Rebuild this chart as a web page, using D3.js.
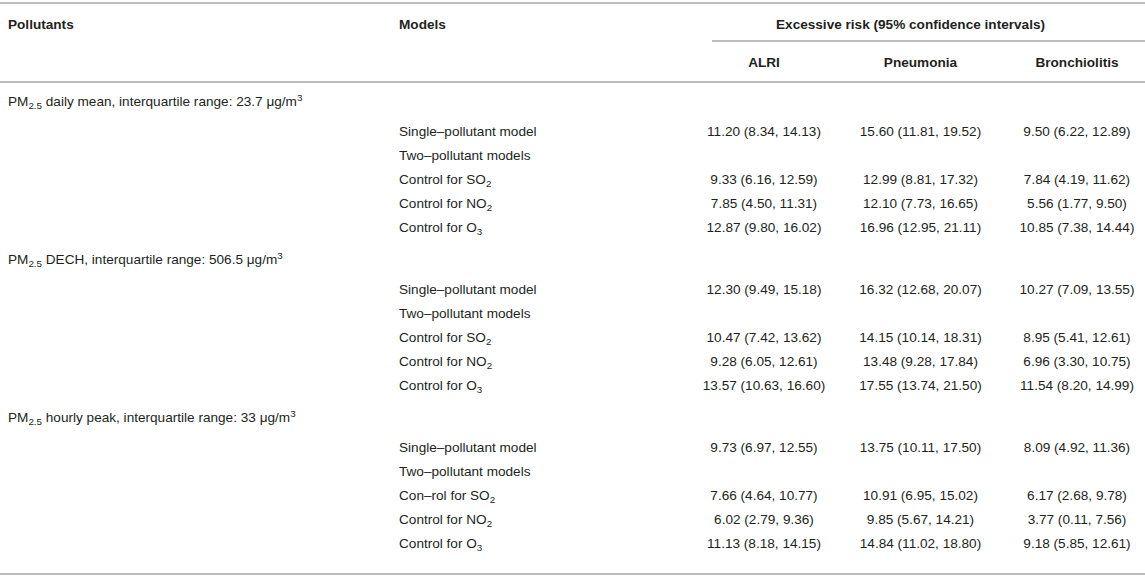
<!DOCTYPE html>
<html>
<head>
<meta charset="utf-8">
<script src="https://cdn.jsdelivr.net/npm/d3@7"></script>
<style>
  body { margin: 0; background: #fff; }
  svg text { font-family: "Liberation Sans", Arial, sans-serif; fill: #231f20; }
</style>
</head>
<body>
<div id="canvas"></div>
<script>
"use strict";

/* Table content */
let outcomes = ["ALRI", "Pneumonia", "Bronchiolitis"];
let groupNames = ["daily mean", "DECH", "hourly peak"];
let iqrValues = ["23.7", "506.5", "33"];
let modelNames = [
  ["Single\u2013pollutant model", "Two\u2013pollutant models", "Control for SO|2", "Control for NO|2", "Control for O|3"],
  ["Single\u2013pollutant model", "Two\u2013pollutant models", "Control for SO|2", "Control for NO|2", "Control for O|3"],
  ["Single\u2013pollutant model", "Two\u2013pollutant models", "Con\u2013rol for SO|2", "Control for NO|2", "Control for O|3"]
];

/* [estimate, lower, upper]; null where the row has no values */
let alri = [
  [[11.20, 8.34, 14.13], null, [9.33, 6.16, 12.59], [7.85, 4.50, 11.31], [12.87, 9.80, 16.02]],
  [[12.30, 9.49, 15.18], null, [10.47, 7.42, 13.62], [9.28, 6.05, 12.61], [13.57, 10.63, 16.60]],
  [[9.73, 6.97, 12.55], null, [7.66, 4.64, 10.77], [6.02, 2.79, 9.36], [11.13, 8.18, 14.15]]
];
let pneumonia = [
  [[15.60, 11.81, 19.52], null, [12.99, 8.81, 17.32], [12.10, 7.73, 16.65], [16.96, 12.95, 21.11]],
  [[16.32, 12.68, 20.07], null, [14.15, 10.14, 18.31], [13.48, 9.28, 17.84], [17.55, 13.74, 21.50]],
  [[13.75, 10.11, 17.50], null, [10.91, 6.95, 15.02], [9.85, 5.67, 14.21], [14.84, 11.02, 18.80]]
];
let bronchiolitis = [
  [[9.50, 6.22, 12.89], null, [7.84, 4.19, 11.62], [5.56, 1.77, 9.50], [10.85, 7.38, 14.44]],
  [[10.27, 7.09, 13.55], null, [8.95, 5.41, 12.61], [6.96, 3.30, 10.75], [11.54, 8.20, 14.99]],
  [[8.09, 4.92, 11.36], null, [6.17, 2.68, 9.78], [3.77, 0.11, 7.56], [9.18, 5.85, 12.61]]
];
let seriesByOutcome = [alri, pneumonia, bronchiolitis];

/* Drawing configuration */
let svgWidth = 1145;
let svgHeight = 579;
let fontSize = 13.6;
let lineColor = "#a8a8a8";
let pollutantX = 8;
let modelX = 399;
let rowPitch = 24;
let groupPitch = 158;
let firstRowY = 131;
let headerOffset = -30;

let svg = d3.select("#canvas")
  .append("svg")
  .attr("width", svgWidth)
  .attr("height", svgHeight);

/* column centres for the three outcomes */
let xScale = d3.scalePoint()
  .domain(outcomes)
  .range([764, 1077])
  .padding(0);

/* rows: slot index within a group -> y */
let rowScale = d3.scaleLinear()
  .domain([0, 1])
  .range([0, rowPitch]);

function rowY(g, i) {
  return firstRowY + g * groupPitch + rowScale(i);
}

function baseline(y) {
  return y + 4.7;
}

/* write "text|sub" with subscript part */
function writeSub(sel, label) {
  let parts = label.split("|");
  sel.append("tspan").text(parts[0]);
  if (parts.length > 1) {
    sel.append("tspan")
      .attr("font-size", fontSize * 0.72)
      .attr("dy", 3)
      .text(parts[1]);
  }
}

/* horizontal rules */
let rules = [
  { x1: 0, x2: svgWidth, y: 3 },
  { x1: 712, x2: svgWidth, y: 41 },
  { x1: 0, x2: svgWidth, y: 82 },
  { x1: 0, x2: svgWidth, y: 574 }
];
svg.selectAll("line.rule")
  .data(rules)
  .enter()
  .append("line")
  .attr("class", "rule")
  .attr("x1", function (d) { return d.x1; })
  .attr("x2", function (d) { return d.x2; })
  .attr("y1", function (d) { return d.y; })
  .attr("y2", function (d) { return d.y; })
  .attr("stroke", lineColor)
  .attr("stroke-width", 1.5);

/* header */
svg.append("text")
  .attr("x", pollutantX)
  .attr("y", baseline(24))
  .attr("font-size", fontSize)
  .attr("font-weight", "bold")
  .text("Pollutants");

svg.append("text")
  .attr("x", modelX)
  .attr("y", baseline(24))
  .attr("font-size", fontSize)
  .attr("font-weight", "bold")
  .text("Models");

svg.append("text")
  .attr("x", xScale("Pneumonia") - 10)
  .attr("y", baseline(24))
  .attr("font-size", fontSize)
  .attr("font-weight", "bold")
  .attr("text-anchor", "middle")
  .text("Excessive risk (95% confidence intervals)");

svg.selectAll("text.outcome")
  .data(outcomes)
  .enter()
  .append("text")
  .attr("class", "outcome")
  .attr("x", function (d) { return xScale(d); })
  .attr("y", baseline(62))
  .attr("font-size", fontSize)
  .attr("font-weight", "bold")
  .attr("text-anchor", "middle")
  .text(function (d) { return d; });

/* group headings */
for (let g = 0; g < groupNames.length; g = g + 1) {
  let t = svg.append("text")
    .attr("x", pollutantX)
    .attr("y", baseline(rowY(g, 0) + headerOffset))
    .attr("font-size", fontSize);
  t.append("tspan").text("PM");
  t.append("tspan").attr("font-size", fontSize * 0.72).attr("dy", 3).text("2.5");
  t.append("tspan").attr("dy", -3).text(" " + groupNames[g] + ", interquartile range: " + iqrValues[g] + " \u03bcg/m");
  t.append("tspan").attr("font-size", fontSize * 0.72).attr("dy", -5).text("3");
}

/* model labels */
for (let g = 0; g < modelNames.length; g = g + 1) {
  for (let i = 0; i < modelNames[g].length; i = i + 1) {
    let t = svg.append("text")
      .attr("x", modelX)
      .attr("y", baseline(rowY(g, i)))
      .attr("font-size", fontSize);
    writeSub(t, modelNames[g][i]);
  }
}

/* value cells */
function fmt(v) {
  return v[0].toFixed(2) + " (" + v[1].toFixed(2) + ", " + v[2].toFixed(2) + ")";
}

for (let k = 0; k < outcomes.length; k = k + 1) {
  let cells = [];
  for (let g = 0; g < 3; g = g + 1) {
    for (let i = 0; i < 5; i = i + 1) {
      if (seriesByOutcome[k][g][i] !== null) {
        cells.push({ g: g, i: i, v: seriesByOutcome[k][g][i] });
      }
    }
  }
  svg.selectAll("text.cell" + k)
    .data(cells)
    .enter()
    .append("text")
    .attr("class", "cell" + k)
    .attr("x", xScale(outcomes[k]))
    .attr("y", function (d) { return baseline(rowY(d.g, d.i)); })
    .attr("font-size", fontSize)
    .attr("text-anchor", "middle")
    .text(function (d) { return fmt(d.v); });
}
</script>
</body>
</html>
